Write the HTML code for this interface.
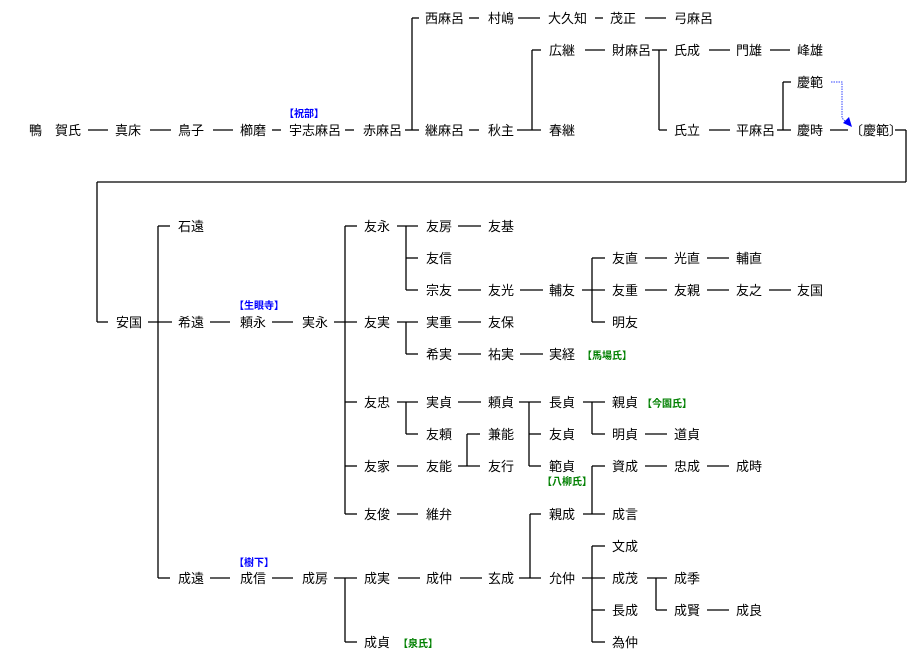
<!DOCTYPE html>
<html><head><meta charset="utf-8"><style>
html,body{margin:0;padding:0;background:#fff;}
svg{display:block}
text{font-family:"Liberation Sans","Noto Sans CJK JP",sans-serif;font-size:13px;fill:#000;}
.b{fill:#0000ff;font-size:10px;font-weight:bold}
.g{fill:#008000;font-size:10px;font-weight:bold}
line{stroke:#000;stroke-width:1.3}
</style></head><body>
<svg width="916" height="659" viewBox="0 0 916 659">
<g>
<!-- top row y=130 -->
<text x="29" y="135">鴨</text><text x="55" y="135">賀氏</text>
<text x="115" y="135">真床</text><text x="178" y="135">鳥子</text>
<text x="240" y="135">櫛磨</text><text x="289" y="135">宇志麻呂</text>
<text x="363" y="135">赤麻呂</text><text x="425" y="135">継麻呂</text>
<text x="488" y="135">秋主</text><text x="549" y="135">春継</text>
<text x="674" y="135">氏立</text><text x="736" y="135">平麻呂</text>
<text x="797" y="135">慶時</text><text x="850" y="135">〔慶範〕</text>
<text class="b" x="284" y="117">【祝部】</text>
<!-- y=18 -->
<text x="425" y="23">西麻呂</text><text x="488" y="23">村嶋</text>
<text x="548" y="23">大久知</text><text x="610" y="23">茂正</text>
<text x="674" y="23">弓麻呂</text>
<!-- y=50 -->
<text x="549" y="55">広継</text><text x="612" y="55">財麻呂</text>
<text x="674" y="55">氏成</text><text x="736" y="55">門雄</text><text x="797" y="55">峰雄</text>
<text x="797" y="87">慶範</text>
</g>
<g>
<line x1="88" y1="130" x2="108" y2="130"/><line x1="150" y1="130" x2="171" y2="130"/>
<line x1="213" y1="130" x2="233" y2="130"/><line x1="272" y1="130" x2="281" y2="130"/>
<line x1="345" y1="130" x2="354" y2="130"/><line x1="405" y1="130" x2="419" y2="130"/>
<line x1="412" y1="18" x2="412" y2="130"/><line x1="412" y1="18" x2="419" y2="18"/>
<line x1="469" y1="130" x2="479" y2="130"/>
<line x1="469" y1="18" x2="479" y2="18"/><line x1="518" y1="18" x2="540" y2="18"/>
<line x1="595" y1="18" x2="603" y2="18"/><line x1="645" y1="18" x2="666" y2="18"/>
<line x1="517" y1="130" x2="541" y2="130"/><line x1="532" y1="50" x2="532" y2="130"/><line x1="532" y1="50" x2="541" y2="50"/>
<line x1="585" y1="50" x2="605" y2="50"/>
<line x1="652" y1="50" x2="667" y2="50"/><line x1="659" y1="50" x2="659" y2="130"/><line x1="659" y1="130" x2="667" y2="130"/>
<line x1="709" y1="50" x2="730" y2="50"/><line x1="770" y1="50" x2="790" y2="50"/>
<line x1="709" y1="130" x2="730" y2="130"/>
<line x1="777" y1="130" x2="791" y2="130"/><line x1="783" y1="82" x2="783" y2="130"/><line x1="783" y1="82" x2="791" y2="82"/>
<line x1="830" y1="130" x2="848" y2="130"/>
<line x1="895" y1="130" x2="906" y2="130"/><line x1="906" y1="130" x2="906" y2="182"/>
<line x1="97" y1="182" x2="906" y2="182"/><line x1="97" y1="182" x2="97" y2="322"/><line x1="97" y1="322" x2="108" y2="322"/>
</g>
<polyline points="831,82 842,82 842,118 848,124" fill="none" stroke="#3344ff" stroke-width="1" stroke-dasharray="1.5,1"/>
<polygon points="852,127 843,123 849,117" fill="#0000ff"/>
<g>
<text x="116" y="327">安国</text>
<text x="178" y="231">石遠</text><text x="178" y="327">希遠</text><text x="178" y="583">成遠</text>
<text x="240" y="327">頼永</text><text class="b" x="234" y="309">【生眼寺】</text>
<text x="302" y="327">実永</text>
<text x="364" y="231">友永</text><text x="364" y="327">友実</text><text x="364" y="407">友忠</text>
<text x="364" y="471">友家</text><text x="364" y="519">友俊</text>
<text x="426" y="231">友房</text><text x="426" y="263">友信</text><text x="426" y="295">宗友</text>
<text x="426" y="327">実重</text><text x="426" y="359">希実</text>
<text x="426" y="407">実貞</text><text x="426" y="439">友頼</text><text x="426" y="471">友能</text><text x="426" y="519">維弁</text>
<text x="488" y="231">友基</text><text x="488" y="295">友光</text><text x="488" y="327">友保</text><text x="488" y="359">祐実</text>
<text x="488" y="407">頼貞</text><text x="488" y="439">兼能</text><text x="488" y="471">友行</text>
<text x="549" y="295">輔友</text><text x="549" y="359">実経</text><text class="g" x="582" y="359">【馬場氏】</text>
<text x="549" y="407">長貞</text><text x="549" y="439">友貞</text><text x="549" y="471">範貞</text>
<text class="g" x="542" y="485">【八柳氏】</text><text x="549" y="519">親成</text>
<text x="612" y="263">友直</text><text x="612" y="295">友重</text><text x="612" y="327">明友</text>
<text x="612" y="407">親貞</text><text class="g" x="642" y="407">【今園氏】</text>
<text x="612" y="439">明貞</text><text x="612" y="471">資成</text><text x="612" y="519">成言</text>
<text x="674" y="263">光直</text><text x="674" y="295">友親</text><text x="674" y="439">道貞</text><text x="674" y="471">忠成</text>
<text x="736" y="263">輔直</text><text x="736" y="295">友之</text><text x="736" y="471">成時</text>
<text x="797" y="295">友国</text>
<text x="240" y="583">成信</text><text class="b" x="234" y="566">【樹下】</text>
<text x="302" y="583">成房</text><text x="364" y="583">成実</text><text x="364" y="647">成貞</text><text class="g" x="398" y="647">【泉氏】</text>
<text x="426" y="583">成仲</text><text x="488" y="583">玄成</text><text x="549" y="583">允仲</text>
<text x="612" y="551">文成</text><text x="612" y="583">成茂</text><text x="612" y="615">長成</text><text x="612" y="647">為仲</text>
<text x="674" y="583">成季</text><text x="674" y="615">成賢</text><text x="736" y="615">成良</text>
</g>
<g>
<line x1="148" y1="322" x2="172" y2="322"/><line x1="158" y1="226" x2="158" y2="578"/>
<line x1="158" y1="226" x2="170" y2="226"/><line x1="158" y1="578" x2="170" y2="578"/>
<line x1="210" y1="322" x2="230" y2="322"/><line x1="272" y1="322" x2="293" y2="322"/>
<line x1="334" y1="322" x2="357" y2="322"/><line x1="345" y1="226" x2="345" y2="514"/>
<line x1="345" y1="226" x2="357" y2="226"/><line x1="345" y1="402" x2="357" y2="402"/>
<line x1="345" y1="466" x2="357" y2="466"/><line x1="345" y1="514" x2="357" y2="514"/>
<!-- 友永 -->
<line x1="397" y1="226" x2="418" y2="226"/><line x1="406" y1="226" x2="406" y2="290"/>
<line x1="406" y1="258" x2="418" y2="258"/><line x1="406" y1="290" x2="418" y2="290"/>
<line x1="458" y1="226" x2="481" y2="226"/><line x1="458" y1="290" x2="481" y2="290"/>
<line x1="520" y1="290" x2="543" y2="290"/>
<line x1="582" y1="290" x2="605" y2="290"/><line x1="592" y1="258" x2="592" y2="322"/>
<line x1="592" y1="258" x2="605" y2="258"/><line x1="592" y1="322" x2="605" y2="322"/>
<line x1="645" y1="258" x2="667" y2="258"/><line x1="707" y1="258" x2="729" y2="258"/>
<line x1="645" y1="290" x2="667" y2="290"/><line x1="707" y1="290" x2="729" y2="290"/><line x1="769" y1="290" x2="791" y2="290"/>
<!-- 友実 -->
<line x1="397" y1="322" x2="418" y2="322"/><line x1="406" y1="322" x2="406" y2="354"/><line x1="406" y1="354" x2="418" y2="354"/>
<line x1="458" y1="322" x2="481" y2="322"/><line x1="458" y1="354" x2="481" y2="354"/><line x1="520" y1="354" x2="543" y2="354"/>
<!-- 友忠 -->
<line x1="397" y1="402" x2="418" y2="402"/><line x1="406" y1="402" x2="406" y2="434"/><line x1="406" y1="434" x2="418" y2="434"/>
<line x1="458" y1="402" x2="481" y2="402"/>
<line x1="519" y1="402" x2="541" y2="402"/><line x1="529" y1="402" x2="529" y2="466"/>
<line x1="529" y1="434" x2="541" y2="434"/><line x1="529" y1="466" x2="541" y2="466"/>
<line x1="583" y1="402" x2="605" y2="402"/><line x1="592" y1="402" x2="592" y2="434"/><line x1="592" y1="434" x2="605" y2="434"/>
<line x1="645" y1="434" x2="667" y2="434"/>
<!-- 友家 -->
<line x1="397" y1="466" x2="418" y2="466"/>
<line x1="458" y1="466" x2="480" y2="466"/><line x1="467" y1="434" x2="467" y2="466"/><line x1="467" y1="434" x2="480" y2="434"/>
<line x1="397" y1="514" x2="418" y2="514"/>
<!-- 親成 -->
<line x1="583" y1="514" x2="605" y2="514"/><line x1="592" y1="466" x2="592" y2="514"/><line x1="592" y1="466" x2="605" y2="466"/>
<line x1="645" y1="466" x2="667" y2="466"/><line x1="707" y1="466" x2="729" y2="466"/>
<line x1="530" y1="514" x2="541" y2="514"/><line x1="530" y1="514" x2="530" y2="578"/>
<!-- 成遠 row -->
<line x1="210" y1="578" x2="230" y2="578"/><line x1="272" y1="578" x2="293" y2="578"/>
<line x1="334" y1="578" x2="357" y2="578"/><line x1="345" y1="578" x2="345" y2="642"/><line x1="345" y1="642" x2="357" y2="642"/>
<line x1="398" y1="578" x2="420" y2="578"/><line x1="460" y1="578" x2="482" y2="578"/>
<line x1="519" y1="578" x2="541" y2="578"/>
<line x1="582" y1="578" x2="605" y2="578"/><line x1="592" y1="546" x2="592" y2="642"/>
<line x1="592" y1="546" x2="605" y2="546"/><line x1="592" y1="610" x2="605" y2="610"/><line x1="592" y1="642" x2="605" y2="642"/>
<line x1="647" y1="578" x2="667" y2="578"/><line x1="656" y1="578" x2="656" y2="610"/><line x1="656" y1="610" x2="667" y2="610"/>
<line x1="707" y1="610" x2="729" y2="610"/>
</g>
</svg>
</body></html>
